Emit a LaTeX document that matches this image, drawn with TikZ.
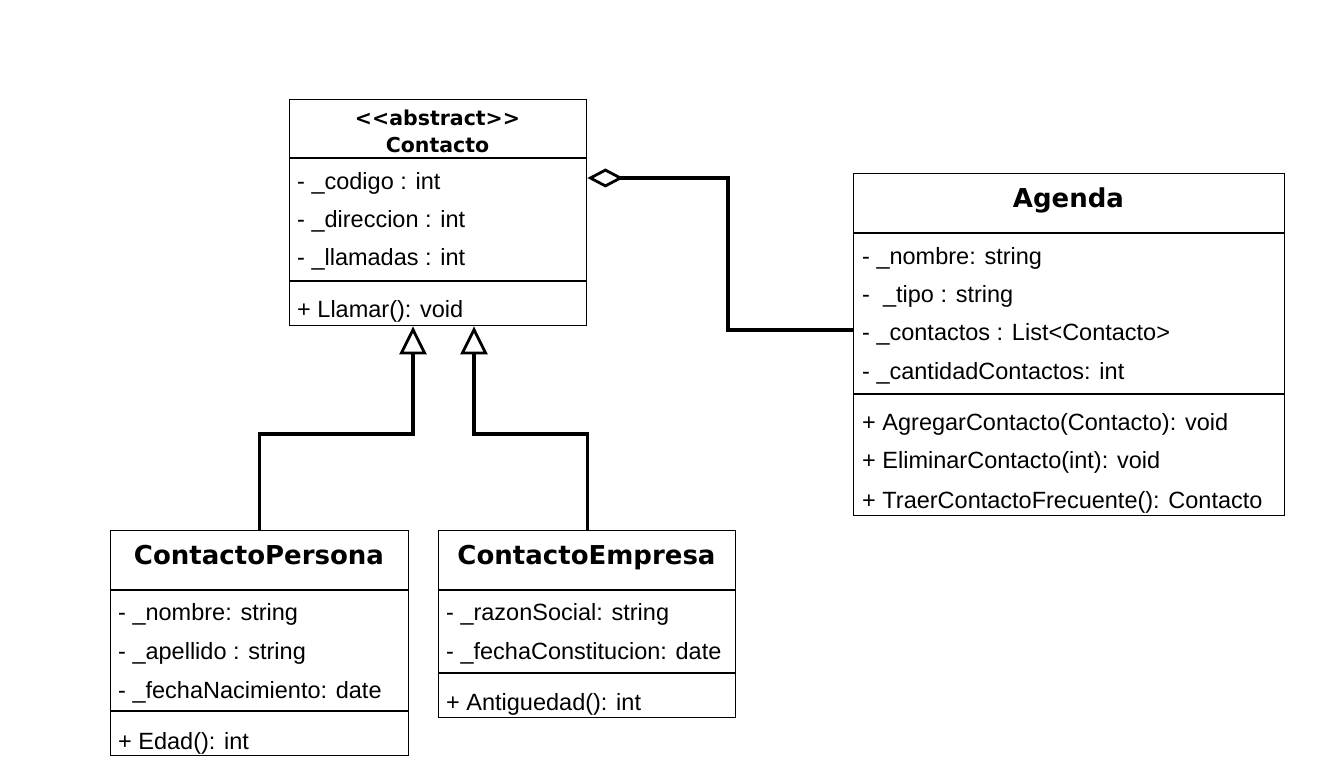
\documentclass[tikz,border=0pt]{standalone}
\usepackage{fontspec}
\setmainfont{Liberation Sans}
\newfontfamily\hdrfont{DejaVu Sans}
\usetikzlibrary{arrows.meta}
\begin{document}
\begin{tikzpicture}[x=1pt,y=-1pt,
 classbox/.style={draw=black, line width=1.4pt, fill=white, anchor=north west, inner sep=0pt},
 sepline/.style={draw=black, line width=1.4pt},
 attr/.style={anchor=base west, inner sep=0pt, font=\fontsize{23.5}{28}\selectfont},
 hdr/.style={anchor=base, inner sep=0pt, font=\hdrfont\bfseries\fontsize{26}{30}\selectfont},
 hdrsmall/.style={anchor=base, inner sep=0pt, font=\hdrfont\bfseries\fontsize{20.5}{24}\selectfont},
 conn/.style={draw=black, line width=3.2pt},
 inh/.style={conn, -{Triangle[open, length=28pt, width=27pt, line width=2.8pt]}},
 agg/.style={conn, -{Diamond[open, length=36pt, width=19pt, line width=2.8pt]}}
]
\path[fill=white, use as bounding box] (0,0) rectangle (1334,783);

% Contacto
\node[classbox, minimum width=297pt, minimum height=226pt] (contacto) at (289,99) {};
\draw[sepline] ([yshift=-59pt]contacto.north west) -- ([yshift=-59pt]contacto.north east);
\draw[sepline] ([yshift=-182pt]contacto.north west) -- ([yshift=-182pt]contacto.north east);
\node[hdrsmall] (cst) at (437.5,126) {<<abstract>>};
\node[hdrsmall] (cname) at (437.5,153) {Contacto};
\node[attr] (c1) at (297,190) {- \_codigo : int};
\node[attr] (c2) at (297,228) {- \_direccion : int};
\node[attr] (c3) at (297,266) {- \_llamadas : int};
\node[attr] (c4) at (297,318) {+ Llamar(): void};

% Agenda
\node[classbox, minimum width=431pt, minimum height=342pt] (agenda) at (853,173) {};
\draw[sepline] ([yshift=-60pt]agenda.north west) -- ([yshift=-60pt]agenda.north east);
\draw[sepline] ([yshift=-221pt]agenda.north west) -- ([yshift=-221pt]agenda.north east);
\node[hdr] (aname) at (1068.5,208) {Agenda};
\node[attr] (a1) at (862,265) {- \_nombre: string};
\node[attr] (a2) at (862,303) {-\ \ \_tipo : string};
\node[attr] (a3) at (862,341) {- \_contactos : List<Contacto>};
\node[attr] (a4) at (862,380) {- \_cantidadContactos: int};
\node[attr] (a5) at (862,431) {+ AgregarContacto(Contacto): void};
\node[attr] (a6) at (862,469) {+ EliminarContacto(int): void};
\node[attr] (a7) at (862,508) {+ TraerContactoFrecuente(): Contacto};

% ContactoPersona
\node[classbox, minimum width=298pt, minimum height=225pt] (persona) at (110,530) {};
\draw[sepline] ([yshift=-60pt]persona.north west) -- ([yshift=-60pt]persona.north east);
\draw[sepline] ([yshift=-181pt]persona.north west) -- ([yshift=-181pt]persona.north east);
\node[hdr] (pname) at (259,564) {ContactoPersona};
\node[attr] (p1) at (118,620) {- \_nombre: string};
\node[attr] (p2) at (118,659) {- \_apellido : string};
\node[attr] (p3) at (118,698) {- \_fechaNacimiento: date};
\node[attr] (p4) at (118,749) {+ Edad(): int};

% ContactoEmpresa
\node[classbox, minimum width=297pt, minimum height=187pt] (empresa) at (438,530) {};
\draw[sepline] ([yshift=-60pt]empresa.north west) -- ([yshift=-60pt]empresa.north east);
\draw[sepline] ([yshift=-143pt]empresa.north west) -- ([yshift=-143pt]empresa.north east);
\node[hdr] (ename) at (586.5,564) {ContactoEmpresa};
\node[attr] (e1) at (446,620) {- \_razonSocial: string};
\node[attr] (e2) at (446,659) {- \_fechaConstitucion: date};
\node[attr] (e3) at (446,710) {+ Antiguedad(): int};

% connectors
\draw[agg] ([yshift=-157pt]agenda.north west) -- ++(-125,0) |- ([yshift=-79pt]contacto.north east);
\draw[inh] (persona.north) -- ++(0,-96) -| ([xshift=124pt]contacto.south west);
\draw[inh] (empresa.north) -- ++(0,-96) -| ([xshift=185pt]contacto.south west);
\end{tikzpicture}
\end{document}
